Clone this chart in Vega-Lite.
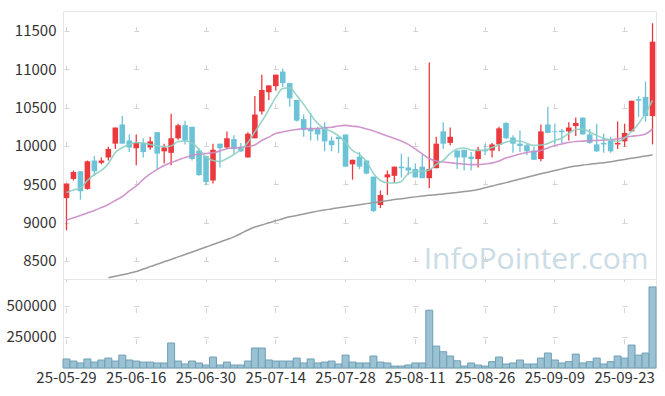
{
  "$schema": "https://vega.github.io/schema/vega-lite/v6.json",
  "background": "white",
  "padding": {"left": 5, "top": 10, "right": 10, "bottom": 5},
  "spacing": 0,
  "bounds": "flush",
  "config": {
    "view": {"stroke": "#e6e6e6"},
    "axis": {"labelFont": "Noto Sans CJK KR", "labelFontSize": 15, "labelColor": "#333333", "domain": false, "ticks": false, "title": null, "gridColor": "#d4d4d4", "gridWidth": 1}
  },
  "data": {"values": [
{"d":"25-05-29","o":9320,"h":9510,"l":8900,"c":9510,"v":72600,"m5":9393,"m20":9034},
{"d":"25-05-30","o":9570,"h":9680,"l":9550,"c":9660,"v":56000,"m5":9426,"m20":9063},
{"d":"25-06-02","o":9670,"h":9670,"l":9300,"c":9410,"v":40400,"m5":9452,"m20":9093},
{"d":"25-06-04","o":9440,"h":9810,"l":9430,"c":9800,"v":72600,"m5":9550,"m20":9126},
{"d":"25-06-05","o":9810,"h":9870,"l":9610,"c":9670,"v":47700,"m5":9628,"m20":9158},
{"d":"25-06-09","o":9780,"h":9850,"l":9760,"c":9810,"v":64300,"m5":9680,"m20":9197},
{"d":"25-06-10","o":9850,"h":9990,"l":9810,"c":9960,"v":79800,"m5":9772,"m20":9237,"m60":8281},
{"d":"25-06-11","o":10030,"h":10240,"l":9960,"c":10240,"v":56000,"m5":9915,"m20":9289,"m60":8301},
{"d":"25-06-12","o":10280,"h":10390,"l":10030,"c":10030,"v":103700,"m5":9980,"m20":9341,"m60":8320},
{"d":"25-06-13","o":10070,"h":10150,"l":9920,"c":9980,"v":64300,"m5":10020,"m20":9413,"m60":8340},
{"d":"25-06-16","o":9970,"h":10150,"l":9750,"c":10040,"v":56000,"m5":10046,"m20":9478,"m60":8362},
{"d":"25-06-17","o":10040,"h":10100,"l":9850,"c":9920,"v":47700,"m5":10039,"m20":9563,"m60":8395},
{"d":"25-06-18","o":9980,"h":10120,"l":9950,"c":10060,"v":47700,"m5":10020,"m20":9635,"m60":8426},
{"d":"25-06-19","o":10180,"h":10180,"l":9690,"c":9900,"v":40400,"m5":10000,"m20":9693,"m60":8457},
{"d":"25-06-20","o":9930,"h":10030,"l":9770,"c":9980,"v":40400,"m5":9993,"m20":9746,"m60":8489},
{"d":"25-06-23","o":9910,"h":10420,"l":9750,"c":10100,"v":201000,"m5":10000,"m20":9785,"m60":8520},
{"d":"25-06-24","o":10100,"h":10290,"l":10080,"c":10270,"v":56000,"m5":10059,"m20":9817,"m60":8553},
{"d":"25-06-25","o":10270,"h":10330,"l":10020,"c":10070,"v":32100,"m5":10065,"m20":9850,"m60":8585},
{"d":"25-06-26","o":10250,"h":10250,"l":9810,"c":9830,"v":56000,"m5":10039,"m20":9876,"m60":8617},
{"d":"25-06-27","o":9940,"h":9970,"l":9610,"c":9620,"v":40400,"m5":9954,"m20":9896,"m60":8649},
{"d":"25-06-30","o":9870,"h":9870,"l":9490,"c":9530,"v":23900,"m5":9856,"m20":9902,"m60":8682},
{"d":"25-07-01","o":9550,"h":10030,"l":9510,"c":9950,"v":88100,"m5":9811,"m20":9911,"m60":8715},
{"d":"25-07-02","o":10030,"h":10030,"l":9720,"c":9970,"v":23900,"m5":9798,"m20":9935,"m60":8747},
{"d":"25-07-03","o":9980,"h":10190,"l":9960,"c":10100,"v":47700,"m5":9837,"m20":9963,"m60":8780},
{"d":"25-07-04","o":10090,"h":10140,"l":9900,"c":9960,"v":23900,"m5":9889,"m20":9974,"m60":8815},
{"d":"25-07-07","o":9990,"h":10040,"l":9920,"c":9930,"v":23900,"m5":9954,"m20":9980,"m60":8858},
{"d":"25-07-08","o":9850,"h":10180,"l":9850,"c":10160,"v":56000,"m5":10046,"m20":9993,"m60":8904},
{"d":"25-07-09","o":10100,"h":10650,"l":10100,"c":10410,"v":160700,"m5":10183,"m20":10013,"m60":8944},
{"d":"25-07-10","o":10450,"h":10930,"l":10410,"c":10730,"v":160700,"m5":10320,"m20":10072,"m60":8970},
{"d":"25-07-11","o":10700,"h":10790,"l":10600,"c":10790,"v":64300,"m5":10476,"m20":10115,"m60":8998},
{"d":"25-07-14","o":10780,"h":10930,"l":10720,"c":10930,"v":56000,"m5":10633,"m20":10163,"m60":9024},
{"d":"25-07-15","o":10970,"h":11010,"l":10770,"c":10820,"v":56000,"m5":10750,"m20":10183,"m60":9051},
{"d":"25-07-16","o":10820,"h":10820,"l":10510,"c":10620,"v":56000,"m5":10757,"m20":10202,"m60":9076},
{"d":"25-07-17","o":10600,"h":10600,"l":10320,"c":10330,"v":79800,"m5":10659,"m20":10215,"m60":9094},
{"d":"25-07-18","o":10350,"h":10410,"l":10120,"c":10210,"v":40400,"m5":10542,"m20":10224,"m60":9113},
{"d":"25-07-21","o":10220,"h":10430,"l":10070,"c":10190,"v":72600,"m5":10411,"m20":10226,"m60":9131},
{"d":"25-07-22","o":10220,"h":10250,"l":10070,"c":10150,"v":40400,"m5":10294,"m20":10228,"m60":9150},
{"d":"25-07-23","o":10250,"h":10310,"l":9930,"c":10060,"v":47700,"m5":10222,"m20":10235,"m60":9166},
{"d":"25-07-24","o":10070,"h":10120,"l":9930,"c":10010,"v":56000,"m5":10189,"m20":10244,"m60":9179},
{"d":"25-07-25","o":10120,"h":10120,"l":9910,"c":10090,"v":32100,"m5":10131,"m20":10261,"m60":9194},
{"d":"25-07-28","o":10150,"h":10150,"l":9730,"c":9730,"v":103700,"m5":10046,"m20":10268,"m60":9207},
{"d":"25-07-29","o":9760,"h":9820,"l":9560,"c":9820,"v":47700,"m5":9941,"m20":10258,"m60":9221},
{"d":"25-07-30","o":9860,"h":9920,"l":9700,"c":9730,"v":40400,"m5":9889,"m20":10248,"m60":9234},
{"d":"25-07-31","o":9810,"h":9810,"l":9630,"c":9640,"v":40400,"m5":9798,"m20":10222,"m60":9248},
{"d":"25-08-01","o":9600,"h":9600,"l":9140,"c":9150,"v":96400,"m5":9641,"m20":10196,"m60":9261},
{"d":"25-08-04","o":9230,"h":9420,"l":9190,"c":9360,"v":47700,"m5":9550,"m20":10163,"m60":9274},
{"d":"25-08-05","o":9590,"h":9680,"l":9360,"c":9630,"v":40400,"m5":9520,"m20":10131,"m60":9287},
{"d":"25-08-06","o":9610,"h":9730,"l":9520,"c":9730,"v":15600,"m5":9517,"m20":10098,"m60":9301},
{"d":"25-08-07","o":9730,"h":9900,"l":9590,"c":9710,"v":15600,"m5":9537,"m20":10065,"m60":9312},
{"d":"25-08-08","o":9720,"h":9860,"l":9620,"c":9680,"v":23900,"m5":9641,"m20":10020,"m60":9324},
{"d":"25-08-11","o":9700,"h":9770,"l":9590,"c":9590,"v":40400,"m5":9667,"m20":9961,"m60":9336},
{"d":"25-08-12","o":9730,"h":9890,"l":9580,"c":9580,"v":40400,"m5":9671,"m20":9896,"m60":9347},
{"d":"25-08-13","o":9580,"h":11090,"l":9450,"c":9700,"v":465000,"m5":9687,"m20":9837,"m60":9357},
{"d":"25-08-14","o":9710,"h":10120,"l":9710,"c":10030,"v":176000,"m5":9759,"m20":9804,"m60":9364},
{"d":"25-08-18","o":10190,"h":10310,"l":9960,"c":10030,"v":130700,"m5":9811,"m20":9791,"m60":9374},
{"d":"25-08-19","o":10040,"h":10240,"l":10010,"c":10120,"v":96400,"m5":9902,"m20":9781,"m60":9383},
{"d":"25-08-20","o":9940,"h":9940,"l":9700,"c":9850,"v":58000,"m5":9961,"m20":9772,"m60":9393},
{"d":"25-08-21","o":9950,"h":9950,"l":9680,"c":9850,"v":15600,"m5":9974,"m20":9762,"m60":9405},
{"d":"25-08-22","o":9860,"h":9920,"l":9680,"c":9830,"v":40400,"m5":9948,"m20":9756,"m60":9415},
{"d":"25-08-25","o":9830,"h":9990,"l":9720,"c":9950,"v":23900,"m5":9941,"m20":9756,"m60":9432},
{"d":"25-08-26","o":9950,"h":10030,"l":9880,"c":9930,"v":15600,"m5":9948,"m20":9765,"m60":9456},
{"d":"25-08-27","o":9940,"h":10040,"l":9850,"c":10020,"v":50800,"m5":9980,"m20":9776,"m60":9478},
{"d":"25-08-28","o":10020,"h":10250,"l":9930,"c":10230,"v":88100,"m5":10013,"m20":9804,"m60":9500},
{"d":"25-08-29","o":10300,"h":10310,"l":10090,"c":10100,"v":32100,"m5":10052,"m20":9843,"m60":9522},
{"d":"25-09-01","o":10110,"h":10140,"l":9910,"c":10030,"v":40400,"m5":10068,"m20":9869,"m60":9545},
{"d":"25-09-02","o":10030,"h":10200,"l":9920,"c":10000,"v":64300,"m5":10065,"m20":9896,"m60":9568},
{"d":"25-09-03","o":10010,"h":10030,"l":9880,"c":9930,"v":32100,"m5":10033,"m20":9915,"m60":9592},
{"d":"25-09-04","o":9940,"h":9990,"l":9820,"c":9820,"v":32100,"m5":10007,"m20":9928,"m60":9615},
{"d":"25-09-05","o":9830,"h":10280,"l":9800,"c":10190,"v":79800,"m5":10013,"m20":9941,"m60":9637},
{"d":"25-09-08","o":10280,"h":10510,"l":10170,"c":10170,"v":120300,"m5":10033,"m20":9974,"m60":9658},
{"d":"25-09-09","o":10190,"h":10290,"l":10030,"c":10180,"v":64300,"m5":10072,"m20":10007,"m60":9679},
{"d":"25-09-10","o":10200,"h":10220,"l":10030,"c":10180,"v":40400,"m5":10104,"m20":10026,"m60":9701},
{"d":"25-09-11","o":10190,"h":10310,"l":10070,"c":10240,"v":50800,"m5":10163,"m20":10046,"m60":9722},
{"d":"25-09-12","o":10260,"h":10370,"l":10130,"c":10300,"v":112000,"m5":10215,"m20":10059,"m60":9739},
{"d":"25-09-15","o":10370,"h":10370,"l":10150,"c":10150,"v":40400,"m5":10222,"m20":10063,"m60":9751},
{"d":"25-09-16","o":10150,"h":10220,"l":10030,"c":10040,"v":50800,"m5":10183,"m20":10069,"m60":9761},
{"d":"25-09-17","o":10020,"h":10290,"l":9920,"c":9930,"v":79800,"m5":10137,"m20":10072,"m60":9772},
{"d":"25-09-18","o":10040,"h":10160,"l":9910,"c":10020,"v":32100,"m5":10098,"m20":10078,"m60":9782},
{"d":"25-09-19","o":10070,"h":10120,"l":9910,"c":9930,"v":50800,"m5":10078,"m20":10082,"m60":9794},
{"d":"25-09-22","o":10020,"h":10320,"l":9960,"c":10040,"v":96400,"m5":10059,"m20":10091,"m60":9809},
{"d":"25-09-23","o":10060,"h":10290,"l":9990,"c":10170,"v":79800,"m5":10104,"m20":10111,"m60":9824},
{"d":"25-09-24","o":10190,"h":10590,"l":10190,"c":10590,"v":184600,"m5":10189,"m20":10127,"m60":9839},
{"d":"25-09-25","o":10610,"h":10650,"l":10380,"c":10590,"v":103700,"m5":10294,"m20":10137,"m60":9854},
{"d":"25-09-26","o":10640,"h":10840,"l":10320,"c":10390,"v":120300,"m5":10424,"m20":10157,"m60":9869},
{"d":"25-09-29","o":10390,"h":11600,"l":10020,"c":11360,"v":652000,"m5":10594,"m20":10224,"m60":9884}
  ]},
  "vconcat": [
    {
      "width": 593,
      "height": 268,
      "encoding": {
        "x": {"field": "d", "type": "ordinal", "sort": "ascending",
          "scale": {"type": "band", "paddingInner": 0.2, "paddingOuter": 0.1},
          "axis": {"labels": false, "grid": true, "minExtent": 0, "maxExtent": 0,
            "values": ["25-05-29","25-06-16","25-06-30","25-07-14","25-07-28","25-08-11","25-08-26","25-09-09","25-09-23"],
            "gridDash": [5, 33.34], "gridDashOffset": 22.8}}
      },
      "layer": [
        {
          "mark": {"type": "rule", "strokeWidth": 1.3},
          "encoding": {
            "y": {"field": "l", "type": "quantitative",
              "scale": {"domain": [8265, 11760], "nice": false, "zero": false},
              "axis": {"values": [8500, 9000, 9500, 10000, 10500, 11000, 11500], "format": "d", "labelPadding": 7, "minExtent": 57, "maxExtent": 57, "grid": true, "gridDash": [5, 64.76], "gridDashOffset": 68.77}},
            "y2": {"field": "h"},
            "color": {"condition": {"test": "datum.c >= datum.o", "value": "#ec393d"}, "value": "#6cc3d7"}
          }
        },
        {
          "mark": {"type": "bar"},
          "encoding": {
            "y": {"field": "o", "type": "quantitative"},
            "y2": {"field": "c"},
            "color": {"condition": {"test": "datum.c >= datum.o", "value": "#ec393d"}, "value": "#6cc3d7"}
          }
        },
        {
          "mark": {"type": "line", "color": "#9a9a9a", "strokeWidth": 1.5, "interpolate": "monotone"},
          "encoding": {"y": {"field": "m60", "type": "quantitative"}}
        },
        {
          "mark": {"type": "line", "color": "#cb8cc8", "strokeWidth": 1.6, "interpolate": "monotone", "opacity": 0.9},
          "encoding": {"y": {"field": "m20", "type": "quantitative"}}
        },
        {
          "mark": {"type": "line", "color": "#8dcfc2", "strokeWidth": 1.6, "interpolate": "monotone", "opacity": 0.9},
          "encoding": {"y": {"field": "m5", "type": "quantitative"}}
        },
        {
          "transform": [{"filter": "datum.d == '25-09-29'"}],
          "mark": {"type": "text", "align": "right", "baseline": "alphabetic", "font": "Open Sans", "fontSize": 30, "color": "#cadce5", "dx": -4},
          "encoding": {
            "y": {"datum": 8400, "type": "quantitative"},
            "text": {"value": "InfoPointer.com"}
          }
        }
      ]
    },
    {
      "width": 593,
      "height": 89,
      "mark": {"type": "bar", "fill": "#9bc2d2", "stroke": "#6f9fb5", "strokeWidth": 1},
      "encoding": {
        "x": {"field": "d", "type": "ordinal", "sort": "ascending",
          "scale": {"type": "band", "paddingInner": 0, "paddingOuter": 0},
          "axis": {"labelAngle": 0, "labelPadding": 2, "labelFontSize": 15, "labelOverlap": false, "grid": true,
            "values": ["25-05-29","25-06-16","25-06-30","25-07-14","25-07-28","25-08-11","25-08-26","25-09-09","25-09-23"],
            "gridDash": [5, 26.15], "gridDashOffset": 2.55}},
        "y": {"field": "v", "type": "quantitative",
          "scale": {"domain": [0, 716000], "nice": false},
          "axis": {"values": [250000, 500000], "format": "d", "labelPadding": 7, "minExtent": 57, "maxExtent": 57, "grid": true, "gridDash": [5, 64.76], "gridDashOffset": 68.77}}
      }
    }
  ]
}
